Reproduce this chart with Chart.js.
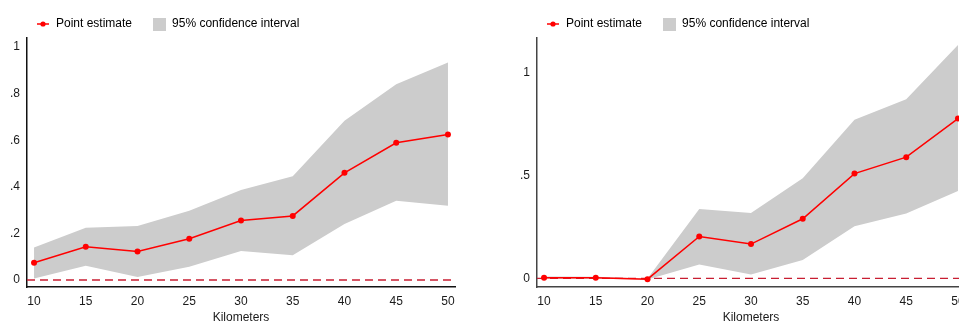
<!DOCTYPE html>
<html>
<head>
<meta charset="utf-8">
<title>Point estimates by distance</title>
<script src="https://cdn.jsdelivr.net/npm/chart.js@4.4.0/dist/chart.umd.min.js"></script>
<style>
    html, body { margin: 0; padding: 0; background: #fff; }
    body { width: 959px; height: 322px; overflow: hidden; position: relative; }
    canvas { position: absolute; top: 0; }
    #leftChart { left: 0; }
    #rightChart { left: 480px; }
</style>
</head>
<body>
<canvas id="leftChart" width="480" height="322"></canvas>
<canvas id="rightChart" width="510" height="322"></canvas>
<script>
(function () {
    'use strict';

    // x categories (kilometers)
    var km = [10, 15, 20, 25, 30, 35, 40, 45, 50];

    // left panel
    var leftPoint = [0.074, 0.143, 0.122, 0.177, 0.255, 0.275, 0.460, 0.589, 0.624];
    var leftUpper = [0.140, 0.224, 0.232, 0.297, 0.386, 0.445, 0.684, 0.840, 0.933];
    var leftLower = [0.007, 0.061, 0.013, 0.057, 0.124, 0.106, 0.240, 0.340, 0.319];
    var leftYTicks = [0, 0.2, 0.4, 0.6, 0.8, 1];
    var leftYLabels = ['0', '.2', '.4', '.6', '.8', '1'];

    // right panel
    var rightPoint = [0.003, 0.003, -0.004, 0.204, 0.167, 0.290, 0.510, 0.590, 0.778];
    var rightUpper = [0.009, 0.008, -0.001, 0.338, 0.318, 0.487, 0.772, 0.872, 1.136];
    var rightLower = [-0.002, -0.002, -0.006, 0.068, 0.019, 0.090, 0.254, 0.316, 0.425];
    var rightYTicks = [0, 0.5, 1];
    var rightYLabels = ['0', '.5', '1'];

    var xTicks = km;

    var RED = '#ff0000';
    var ZERO_RED = '#c81e32';
    var BAND = '#cccccc';
    var TEXT = '#1a1a1a';
    var FONT = { family: '"Liberation Sans", Arial, Helvetica, sans-serif', size: 12 };

    // legend swatches: red line with dot, grey square
    function makeMarker() {
        var c = document.createElement('canvas');
        c.width = 12; c.height = 8;
        var g = c.getContext('2d');
        g.strokeStyle = RED;
        g.lineWidth = 1.5;
        g.beginPath(); g.moveTo(0, 4); g.lineTo(12, 4); g.stroke();
        g.fillStyle = RED;
        g.beginPath(); g.arc(6, 4, 2.6, 0, Math.PI * 2); g.fill();
        return c;
    }
    function makeBox() {
        var c = document.createElement('canvas');
        c.width = 13; c.height = 13;
        var g = c.getContext('2d');
        g.fillStyle = BAND;
        g.fillRect(0, 0, 13, 13);
        return c;
    }
    var markerImg = makeMarker();
    var boxImg = makeBox();

    function toXY(vals) {
        return km.map(function (k, i) { return { x: k, y: vals[i] }; });
    }

    function buildChart(canvasId, cfg) {
        var xMin = 9.32, xMax = 50.68;
        var ctx = document.getElementById(canvasId).getContext('2d');

        // legend sits a little right of / below where Chart.js puts it
        var legendShift = {
            id: 'legendShift',
            afterLayout: function (chart) {
                chart.legend.left += cfg.legendLeft;
                chart.legend.top += 2;
            }
        };

        return new Chart(ctx, {
            type: 'line',
            plugins: [legendShift],
            data: {
                datasets: [{
                    label: 'Point estimate',
                    data: toXY(cfg.point),
                    borderColor: RED,
                    backgroundColor: RED,
                    borderWidth: 1.5,
                    pointRadius: 3,
                    pointBorderWidth: 0,
                    pointBackgroundColor: RED,
                    tension: 0,
                    fill: false
                }, {
                    label: 'zero',
                    data: [{ x: xMin, y: 0 }, { x: xMax, y: 0 }],
                    borderColor: ZERO_RED,
                    borderWidth: 1.3,
                    borderDash: [8, 5],
                    pointRadius: 0,
                    fill: false
                }, {
                    label: '95% confidence interval',
                    data: toXY(cfg.upper),
                    borderWidth: 0,
                    borderColor: BAND,
                    backgroundColor: BAND,
                    pointRadius: 0,
                    fill: '+1'
                }, {
                    label: 'lower',
                    data: toXY(cfg.lower),
                    borderWidth: 0,
                    borderColor: BAND,
                    pointRadius: 0,
                    fill: false
                }]
            },
            options: {
                responsive: false,
                animation: false,
                devicePixelRatio: 1,
                layout: {
                    padding: { left: 0, right: 25, top: -4, bottom: -3 }
                },
                plugins: {
                    tooltip: { enabled: false },
                    legend: {
                        position: 'top',
                        align: 'start',
                        onClick: null,
                        labels: {
                            usePointStyle: true,
                            pointStyleWidth: 14,
                            padding: 20,
                            color: TEXT,
                            font: FONT,
                            generateLabels: function () {
                                return [
                                    { text: 'Point estimate', pointStyle: markerImg, fillStyle: RED, strokeStyle: RED, lineWidth: 0, hidden: false, datasetIndex: 0 },
                                    { text: '95% confidence interval', pointStyle: boxImg, fillStyle: BAND, strokeStyle: BAND, lineWidth: 0, hidden: false, datasetIndex: 2 }
                                ];
                            }
                        }
                    }
                },
                scales: {
                    x: {
                        type: 'linear',
                        min: xMin,
                        max: xMax,
                        afterBuildTicks: function (scale) {
                            scale.ticks = xTicks.map(function (v) { return { value: v }; });
                        },
                        afterFit: function (scale) { scale.height = 38; },
                        grid: { color: 'rgba(0,0,0,0)', drawTicks: false },
                        border: { display: true, color: cfg.axisColor, width: 1.5 },
                        ticks: {
                            color: TEXT,
                            font: FONT,
                            padding: 7,
                            maxRotation: 0,
                            autoSkip: false
                        },
                        title: {
                            display: true,
                            text: 'Kilometers',
                            color: TEXT,
                            font: FONT,
                            padding: { top: 0, bottom: 0 }
                        }
                    },
                    y: {
                        min: cfg.yMin,
                        max: cfg.yMax,
                        afterBuildTicks: function (scale) {
                            scale.ticks = cfg.yTicks.map(function (v) { return { value: v }; });
                        },
                        afterFit: function (scale) { scale.width = cfg.yWidth; },
                        grid: { color: 'rgba(0,0,0,0)', drawTicks: false },
                        border: { display: true, color: cfg.axisColor, width: 1.5 },
                        ticks: {
                            color: TEXT,
                            font: FONT,
                            padding: 7,
                            autoSkip: false,
                            callback: function (value) {
                                var i = cfg.yTicks.indexOf(value);
                                return i >= 0 ? cfg.yLabels[i] : '';
                            }
                        }
                    }
                }
            }
        });
    }

    buildChart('leftChart', {
        point: leftPoint, upper: leftUpper, lower: leftLower,
        yTicks: leftYTicks, yLabels: leftYLabels,
        yMin: -0.030, yMax: 1.0386,
        yWidth: 27, legendLeft: 16, axisColor: '#111'
    });

    buildChart('rightChart', {
        point: rightPoint, upper: rightUpper, lower: rightLower,
        yTicks: rightYTicks, yLabels: rightYLabels,
        yMin: -0.042, yMax: 1.17,
        yWidth: 57, legendLeft: 46, axisColor: '#444'
    });
})();
</script>
</body>
</html>
